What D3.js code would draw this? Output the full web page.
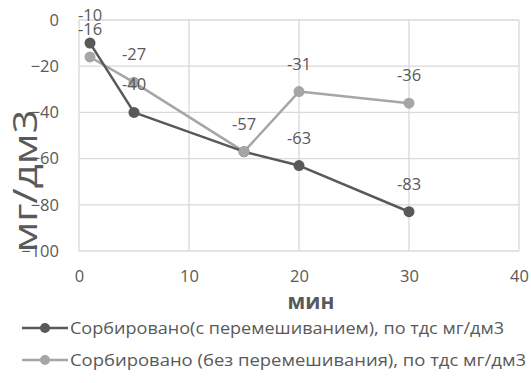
<!DOCTYPE html>
<html>
<head>
<meta charset="utf-8">
<script src="https://cdn.jsdelivr.net/npm/d3@7"></script>
<style>
  html, body { margin: 0; padding: 0; background: #fff; }
  svg { display: block; }
  text { font-family: "Open Sans", "Noto Sans", sans-serif; fill: #595959; }
</style>
</head>
<body>
<svg id="chart" width="531" height="383"></svg>
<script>
// Time points, minutes
const minutes = [1, 5, 15, 20, 30];
// Sorbed amount, mg/dm3
const stirred = [-10, -40, -57, -63, -83];
const unstirred = [-16, -27, -57, -31, -36];
const seriesNames = [
  "Сорбировано(с перемешиванием), по тдс мг/дм3",
  "Сорбировано (без перемешивания), по тдс мг/дм3"
];
const xTicks = [0, 10, 20, 30, 40];
const yTicks = [0, -20, -40, -60, -80, -100];
const xTitle = "мин";
const yTitle = "мг/дм3";

const colors = ["#595959", "#a6a6a6"];
const svg = d3.select("#chart");

const x = d3.scaleLinear().domain([0, 40]).range([79, 519]);
const y = d3.scaleLinear().domain([-100, 0]).range([251, 20]);

// Gridlines
const grid = svg.append("g").attr("stroke", "#d9d9d9").attr("stroke-width", 1.3);
grid.selectAll(".gx").data(xTicks).join("line")
  .attr("x1", d => x(d)).attr("x2", d => x(d))
  .attr("y1", y(0)).attr("y2", y(-100));
grid.selectAll(".gy").data(yTicks).join("line")
  .attr("x1", x(0)).attr("x2", x(40))
  .attr("y1", d => y(d)).attr("y2", d => y(d));

// Axes (labels only; lines come from the grid)
const xAxis = svg.append("g")
  .attr("transform", `translate(0,${y(-100)})`)
  .call(d3.axisBottom(x).tickValues(xTicks).tickSize(0).tickPadding(19));
const yAxis = svg.append("g")
  .attr("transform", `translate(${x(0)},0)`)
  .call(d3.axisLeft(y).tickValues(yTicks).tickSize(0).tickPadding(20));
[xAxis, yAxis].forEach(a => {
  a.select(".domain").remove();
  a.selectAll("text").attr("font-size", 16.5)
    .attr("font-family", "'Open Sans', sans-serif").attr("fill", "#595959");
});

// Axis titles
svg.append("text")
  .attr("x", 311).attr("y", 309)
  .attr("text-anchor", "middle")
  .attr("font-size", 21).attr("font-weight", "bold")
  .text(xTitle);
svg.append("text")
  .attr("transform", "translate(37,181) rotate(-90)")
  .attr("text-anchor", "middle")
  .attr("font-size", 32)
  .attr("textLength", 143).attr("lengthAdjust", "spacingAndGlyphs")
  .text(yTitle);

// Series
const series = [unstirred, stirred].map((vals, i) => ({
  vals, color: i === 0 ? colors[1] : colors[0]
}));
const line = d3.line().x((d, i) => x(minutes[i])).y(d => y(d));

series.forEach(s => {
  svg.append("path")
    .attr("d", line(s.vals))
    .attr("fill", "none")
    .attr("stroke", s.color)
    .attr("stroke-width", 2.5)
    .attr("stroke-linejoin", "round");
});
// markers: stirred underneath unstirred at shared point
[series[1], series[0]].forEach(s => {
  svg.append("g").selectAll("circle").data(s.vals).join("circle")
    .attr("cx", (d, i) => x(minutes[i]))
    .attr("cy", d => y(d))
    .attr("r", 5.5)
    .attr("fill", s.color);
});

// Data labels
const labels = svg.append("g").attr("font-size", 16.5).attr("text-anchor", "middle");
stirred.forEach((v, i) => {
  if (i === 2) return; // shared point, labelled once
  labels.append("text").attr("x", x(minutes[i])).attr("y", y(v) - 22).text(v);
});
unstirred.forEach((v, i) => {
  labels.append("text").attr("x", x(minutes[i])).attr("y", y(v) - 22).text(v);
});

// Legend
const legendWidths = [434, 456];
seriesNames.forEach((name, i) => {
  const ly = 328 + i * 32;
  const g = svg.append("g");
  g.append("line").attr("x1", 22).attr("x2", 68).attr("y1", ly).attr("y2", ly)
    .attr("stroke", colors[i]).attr("stroke-width", 2.5);
  g.append("circle").attr("cx", 45).attr("cy", ly).attr("r", 5).attr("fill", colors[i]);
  g.append("text").attr("x", 70).attr("y", ly + 6).attr("font-size", 16.5)
    .attr("textLength", legendWidths[i]).attr("lengthAdjust", "spacingAndGlyphs")
    .text(name);
});
</script>
</body>
</html>
